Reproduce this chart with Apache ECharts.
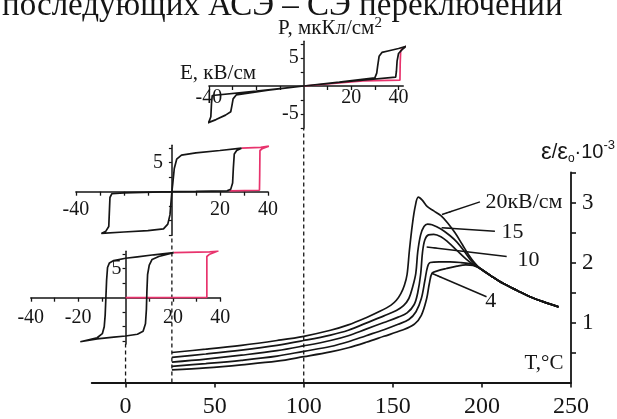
<!DOCTYPE html>
<html>
<head>
<meta charset="utf-8">
<script src="https://cdn.jsdelivr.net/npm/echarts@6/dist/echarts.min.js"></script>
<style>
html, body { margin: 0; padding: 0; background: #fff; }
#c { width: 617px; height: 419px; }
</style>
</head>
<body>
<div id="c"></div>
<script>
// ---- permittivity vs temperature, five bias fields ----
const tempTicks = [0, 50, 100, 150, 200, 250];
const permTicks = [1, 2, 3];
const permMinorTicks = [0.5, 1, 1.5, 2, 2.5, 3, 3.5];

const eps20 = [[26,0.50],[45,0.555],[65,0.62],[85,0.70],[100,0.77],[115,0.87],[125,0.96],[135,1.08],[143,1.19],[149,1.29],[152,1.37],[154.5,1.48],[156.5,1.62],[158,1.80],[159.3,2.20],[161,2.64],[162.6,2.94],[164.3,3.09],[166.5,3.04],[169.4,2.93],[173,2.86],[177,2.78],[181,2.65],[185,2.49],[189,2.30],[192.5,2.13],[196,1.99],[199,1.90],[205,1.78],[212,1.65],[220,1.53],[227,1.43],[235,1.34],[243,1.26]];
const eps15 = [[26,0.42],[45,0.475],[65,0.54],[85,0.62],[100,0.70],[115,0.79],[125,0.87],[135,0.99],[145,1.11],[152,1.20],[156,1.28],[159,1.40],[161,1.58],[162.9,1.82],[164,2.18],[165.6,2.46],[167.5,2.60],[169.5,2.64],[172,2.63],[177,2.56],[182,2.45],[186,2.34],[190,2.19],[194,2.03],[199,1.90],[205,1.78],[212,1.65],[220,1.53],[227,1.43],[235,1.34],[243,1.26]];
const eps10 = [[26,0.34],[45,0.39],[65,0.455],[85,0.53],[100,0.61],[115,0.70],[125,0.78],[135,0.89],[145,1.00],[153,1.09],[158,1.16],[162,1.30],[164,1.50],[165.6,1.80],[166.7,2.18],[168,2.38],[170,2.46],[173,2.47],[177,2.43],[181,2.34],[186,2.20],[191,2.06],[195,1.97],[199,1.90],[205,1.78],[212,1.65],[220,1.53],[227,1.43],[235,1.34],[243,1.26]];
const eps7 = [[26,0.27],[45,0.315],[65,0.37],[85,0.44],[100,0.52],[115,0.60],[125,0.68],[135,0.78],[145,0.88],[153,0.97],[159,1.05],[163,1.18],[166,1.40],[168,1.70],[169.5,1.93],[171,2.00],[176,2.01],[182,2.01],[188,2.00],[193,1.98],[197,1.94],[199,1.90],[205,1.78],[212,1.65],[220,1.53],[227,1.43],[235,1.34],[243,1.26]];
const eps4 = [[26,0.21],[45,0.245],[65,0.295],[85,0.355],[100,0.43],[115,0.51],[125,0.58],[135,0.67],[145,0.77],[155,0.87],[162,0.97],[166,1.12],[169,1.40],[170.5,1.65],[172,1.82],[175,1.86],[180,1.90],[186,1.94],[191,1.96],[195,1.95],[199,1.90],[205,1.78],[212,1.65],[220,1.53],[227,1.43],[235,1.34],[243,1.26]];

// curve captions and their leader arrows (T, eps)
const fieldNames = ['20кВ/см', '15', '10', '4'];
const captionAt = [[223.6,3.01],[217.1,2.50],[226.1,2.04],[205.0,1.35]];
const arrowFrom = [[198.9,3.01],[207.3,2.52],[213.9,2.10],[202.6,1.43]];
const arrowTo   = [[177.6,2.80],[177.4,2.58],[169.0,2.26],[171.8,1.82]];

// ---- P(E) loops, field in kV/cm, polarization in uC/cm2 ----
// at 100 C: double loop
const loop100 = [[0,0],[20,0.85],[38.8,1.6],[39.1,2.6],[39.4,4.5],[40.0,5.8],[41.5,6.5],[43.3,7.1],[40,6.7],[36,6.3],[33,6.0],[31.8,5.3],[31.2,3.6],[30.8,2.3],[30,1.45],[15,0.7],[0,0],[-20,-0.9],[-38.6,-1.7],[-38.9,-3.0],[-39.2,-5.5],[-40,-6.4],[-41.8,-6.8],[-37,-6.0],[-33,-5.2],[-30.8,-4.6],[-30.3,-3.5],[-29.8,-2.3],[-28.5,-1.6],[-15,-0.75],[0,0]];
const first100 = [[0,0],[25,0.9],[40.6,1.05],[40.7,4.0],[40.9,6.3],[41.8,6.8],[43.3,7.1]];
// at 26 C
const loop26 = [[0,0],[0.4,1.5],[1,4],[2,5.6],[4,6.3],[10,6.7],[20,7.1],[29,7.5],[27,7.1],[26,6.5],[25.6,4],[25.3,1.5],[24.5,0.4],[23,0.15],[10,0.05],[0,0],[-0.3,-1.5],[-0.8,-4],[-1.7,-5.6],[-3.5,-6.4],[-10,-6.7],[-20,-6.95],[-29.4,-7.2],[-27.5,-6.8],[-26.3,-6],[-26,-3],[-25.8,-1],[-25,-0.35],[-20,-0.2],[0,0]];
const first26 = [[24,0.15],[36.5,0.25],[36.6,3],[36.7,7.1],[37.6,7.4],[40.4,7.85],[37,7.65],[29,7.5]];
// at 0 C
const loop0 = [[20.3,7.76],[12,7.4],[5,7.05],[0,6.8],[-5,6.4],[-6.8,6.0],[-7.6,5.2],[-8.0,3],[-8.3,0],[-8.6,-3],[-9.0,-5.0],[-9.8,-6.2],[-12,-6.9],[-19.1,-7.6],[-12,-7.1],[-5,-6.8],[0,-6.6],[5,-6.3],[7.4,-5.8],[8.4,-4.5],[8.8,-2],[9.0,1],[9.3,4],[10,5.6],[11.2,6.6],[14,7.1],[20.3,7.76]];
const first0 = [[0,0],[34.3,0.05],[34.3,7.1],[35.5,7.5],[39.2,8.1],[35.5,7.9],[20.3,7.76]];

const fieldTicks = [-40,-30,-20,-10,10,20,30,40];
const polTicks = [-7.5,-5,-2.5,2.5,5,7.5];

// ---- layout ----
const SERIF = 'Liberation Serif';
const INK = '#151515';
const PINK = '#e8336d';

const tMin = -19, tMax = 250;
const main = { left: 91.7, top: 172.5, width: 479.3, height: 210 };
const xOfT = t => main.left + (t - tMin) / (tMax - tMin) * main.width;

// each inset is anchored on the temperature column it was measured at
const insets = [
  { t: 100, y0: 86.0,  sx: 2.37, sy: 5.6, e: [-40, 42], p: [-7.5, 8], xl: [-40, 20, 40], yl: [5, -5], xm: 2, ym: 5 },
  { t: 26,  y0: 191.7, sx: 2.40, sy: 5.8, e: [-40, 40], p: [-7.5, 8], xl: [-40, 20, 40], yl: [5], xm: 8, ym: 9 },
  { t: 0,   y0: 297.7, sx: 2.37, sy: 5.8, e: [-40, 40], p: [-8, 8],   xl: [-40, -20, 20, 40], yl: [5], xm: 10, ym: 4 }
];

const grids = [Object.assign({ outerBoundsMode: 'none', containLabel: false }, main)];
insets.forEach(g => {
  const x0 = xOfT(g.t);
  grids.push({
    outerBoundsMode: 'none', containLabel: false,
    left: x0 + g.e[0] * g.sx,
    top: g.y0 - g.p[1] * g.sy,
    width: (g.e[1] - g.e[0]) * g.sx,
    height: (g.p[1] - g.p[0]) * g.sy
  });
});

const xAxes = [{
  gridIndex: 0, type: 'value', min: tMin, max: tMax,
  axisLine: { onZero: true, lineStyle: { color: INK, width: 1.8 } },
  axisTick: { customValues: tempTicks, length: 5, lineStyle: { color: INK, width: 1.6 } },
  axisLabel: { customValues: tempTicks, margin: 12, fontFamily: SERIF, fontSize: 24, color: INK },
  splitLine: { show: false }
}];
const yAxes = [{
  gridIndex: 0, type: 'value', position: 'right', min: 0, max: 3.5,
  axisLine: { show: true, onZero: false, lineStyle: { color: INK, width: 1.8 } },
  axisTick: { show: true, customValues: permMinorTicks, length: 5, lineStyle: { color: INK, width: 1.6 } },
  axisLabel: { customValues: permTicks, margin: 11, fontFamily: SERIF, fontSize: 23, color: INK },
  splitLine: { show: false }
}];
// inset axes cross at the origin: shift each from its grid edge by the scale distance to zero
insets.forEach((g, i) => {
  xAxes.push({
    gridIndex: i + 1, type: 'value', min: g.e[0], max: g.e[1],
    position: 'bottom', offset: g.p[0] * g.sy,
    axisLine: { onZero: false, lineStyle: { color: INK, width: 1.5 } },
    axisTick: { customValues: fieldTicks, length: 4, lineStyle: { color: INK, width: 1.3 } },
    axisLabel: { customValues: g.xl, margin: g.xm, fontFamily: SERIF, fontSize: 20, color: INK },
    splitLine: { show: false }
  });
  yAxes.push({
    gridIndex: i + 1, type: 'value', min: g.p[0], max: g.p[1],
    position: 'left', offset: g.e[0] * g.sx,
    axisLine: { show: true, onZero: false, lineStyle: { color: INK, width: 1.5 } },
    axisTick: { show: true, customValues: polTicks, length: 3, lineStyle: { color: INK, width: 1.2 } },
    axisLabel: { customValues: g.yl, margin: g.ym, fontFamily: SERIF, fontSize: 20, color: INK },
    splitLine: { show: false }
  });
});

function curve(data, extra) {
  return Object.assign({
    type: 'line', xAxisIndex: 0, yAxisIndex: 0, data: data,
    showSymbol: false, smooth: 0.35, silent: true,
    lineStyle: { color: INK, width: 1.7 }
  }, extra || {});
}
function loop(data, idx, color, z) {
  return {
    type: 'line', xAxisIndex: idx, yAxisIndex: idx, data: data,
    showSymbol: false, smooth: false, silent: true, z: z,
    lineStyle: { color: color, width: 1.7 }
  };
}

const series = [
  curve(eps4), curve(eps7), curve(eps10), curve(eps15),
  curve(eps20, {
    markLine: {
      silent: true, symbol: ['none', 'arrow'], symbolSize: [1, 11],
      label: { show: false },
      lineStyle: { color: INK, width: 1.5, type: 'solid' },
      data: arrowFrom.map((a, i) => [{ coord: a }, { coord: arrowTo[i] }])
    },
    markPoint: {
      silent: true, symbol: 'circle', symbolSize: 1,
      itemStyle: { color: 'rgba(0,0,0,0)' },
      label: { show: true, position: 'inside', formatter: '{b}', fontFamily: SERIF, fontSize: 22, color: INK },
      data: fieldNames.map((n, i) => ({ name: n, coord: captionAt[i] }))
    }
  }),
  loop(first100, 1, PINK, 2), loop(loop100, 1, INK, 3),
  loop(first26, 2, PINK, 2), loop(loop26, 2, INK, 3),
  loop(first0, 3, PINK, 2), loop(loop0, 3, INK, 3)
];

const texts = [
  { type: 'text', x: 2, y: 23, style: { text: 'последующих АСЭ – СЭ переключений', font: '33px "Liberation Serif"', fill: INK, verticalAlign: 'bottom' } },
  { type: 'text', x: 330, y: 28, style: {
      text: 'P, мкКл/см{s|2}', font: '21px "Liberation Serif"', fill: INK, align: 'center', verticalAlign: 'middle',
      rich: { s: { fontSize: 15, fontFamily: SERIF, verticalAlign: 'top', lineHeight: 24 } } } },
  { type: 'text', x: 218, y: 73, style: { text: 'E, кВ/см', font: '21px "Liberation Serif"', fill: INK, align: 'center', verticalAlign: 'middle' } },
  { type: 'text', x: 544, y: 363, style: { text: 'T,°C', font: '21px "Liberation Serif"', fill: INK, align: 'center', verticalAlign: 'middle' } },
  { type: 'text', x: 578, y: 152, style: {
      text: '{e|ε}/{e|ε}{o|o}·10{p|-3}', font: '20px "Liberation Sans"', fill: INK, align: 'center', verticalAlign: 'middle',
      rich: {
        e: { fontSize: 24, fontFamily: 'Liberation Sans', lineHeight: 26 },
        o: { fontSize: 12, fontFamily: 'Liberation Sans', verticalAlign: 'bottom', lineHeight: 26 },
        p: { fontSize: 13, fontFamily: 'Liberation Sans', verticalAlign: 'top', lineHeight: 26 }
      } } }
];

const chart = echarts.init(document.getElementById('c'), null, { renderer: 'canvas' });
chart.setOption({
  animation: false,
  backgroundColor: '#fff',
  grid: grids, xAxis: xAxes, yAxis: yAxes, series: series,
  graphic: texts
});

// dashed guides from the temperature axis up to each loop's origin column
const guides = insets.map((g, i) => {
  const base = chart.convertToPixel({ xAxisIndex: 0, yAxisIndex: 0 }, [g.t, 0]);
  const top = chart.convertToPixel({ xAxisIndex: i + 1, yAxisIndex: i + 1 }, [0, g.p[0]]);
  return {
    type: 'line', silent: true, z: 1,
    shape: { x1: base[0], y1: base[1], x2: base[0], y2: top[1] },
    style: { stroke: INK, lineWidth: 1.3, lineDash: [4, 3] }
  };
});
chart.setOption({ graphic: texts.concat(guides) });
</script>
</body>
</html>
